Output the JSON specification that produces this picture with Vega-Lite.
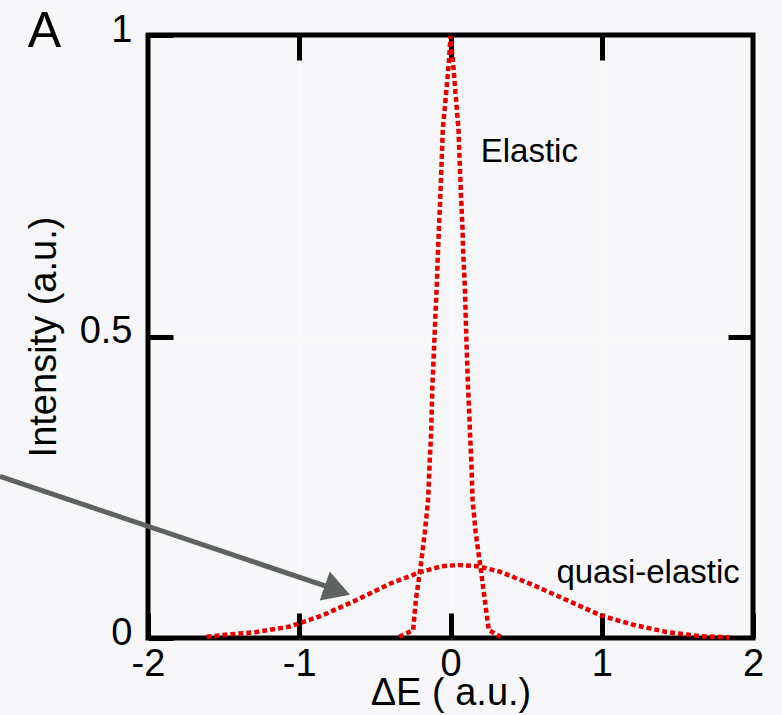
{
  "$schema": "https://vega.github.io/schema/vega-lite/v6.json",
  "autosize": {"type": "none"},
  "width": 605,
  "height": 603,
  "padding": {"left": 148, "top": 35, "right": 29, "bottom": 77},
  "background": "#f7f7f9",
  "config": {
    "view": {"stroke": "black", "strokeWidth": 5, "fill": "#f7f7f9"},
    "font": "Liberation Sans",
    "axis": {
      "labelFont": "Liberation Sans",
      "titleFont": "Liberation Sans",
      "labelFontSize": 38,
      "titleFontSize": 38,
      "labelColor": "black",
      "titleColor": "black",
      "titleFontWeight": "normal",
      "domain": false,
      "tickColor": "black",
      "tickWidth": 5,
      "tickSize": -25,
      "grid": true,
      "gridColor": "white",
      "gridDash": [4, 4],
      "gridWidth": 1
    }
  },
  "datasets": {
    "curves": [
      {"series": "elastic", "dE": -0.340, "I": 0.002},
      {"series": "elastic", "dE": -0.247, "I": 0.013},
      {"series": "elastic", "dE": -0.229, "I": 0.063},
      {"series": "elastic", "dE": -0.198, "I": 0.118},
      {"series": "elastic", "dE": -0.170, "I": 0.174},
      {"series": "elastic", "dE": -0.148, "I": 0.229},
      {"series": "elastic", "dE": -0.139, "I": 0.284},
      {"series": "elastic", "dE": -0.128, "I": 0.340},
      {"series": "elastic", "dE": -0.120, "I": 0.416},
      {"series": "elastic", "dE": -0.110, "I": 0.473},
      {"series": "elastic", "dE": -0.101, "I": 0.528},
      {"series": "elastic", "dE": -0.091, "I": 0.582},
      {"series": "elastic", "dE": -0.083, "I": 0.639},
      {"series": "elastic", "dE": -0.074, "I": 0.694},
      {"series": "elastic", "dE": -0.067, "I": 0.732},
      {"series": "elastic", "dE": -0.059, "I": 0.788},
      {"series": "elastic", "dE": -0.051, "I": 0.843},
      {"series": "elastic", "dE": -0.031, "I": 0.898},
      {"series": "elastic", "dE": -0.011, "I": 0.954},
      {"series": "elastic", "dE": 0.0, "I": 0.998},
      {"series": "elastic", "dE": 0.017, "I": 0.954},
      {"series": "elastic", "dE": 0.035, "I": 0.898},
      {"series": "elastic", "dE": 0.053, "I": 0.843},
      {"series": "elastic", "dE": 0.061, "I": 0.788},
      {"series": "elastic", "dE": 0.070, "I": 0.732},
      {"series": "elastic", "dE": 0.079, "I": 0.682},
      {"series": "elastic", "dE": 0.084, "I": 0.639},
      {"series": "elastic", "dE": 0.095, "I": 0.582},
      {"series": "elastic", "dE": 0.101, "I": 0.528},
      {"series": "elastic", "dE": 0.108, "I": 0.473},
      {"series": "elastic", "dE": 0.116, "I": 0.416},
      {"series": "elastic", "dE": 0.125, "I": 0.367},
      {"series": "elastic", "dE": 0.129, "I": 0.340},
      {"series": "elastic", "dE": 0.139, "I": 0.284},
      {"series": "elastic", "dE": 0.146, "I": 0.229},
      {"series": "elastic", "dE": 0.167, "I": 0.174},
      {"series": "elastic", "dE": 0.198, "I": 0.118},
      {"series": "elastic", "dE": 0.227, "I": 0.063},
      {"series": "elastic", "dE": 0.253, "I": 0.013},
      {"series": "elastic", "dE": 0.332, "I": 0.002},
      {"series": "quasi", "dE": -1.613, "I": 0.002},
      {"series": "quasi", "dE": -1.503, "I": 0.005},
      {"series": "quasi", "dE": -1.282, "I": 0.010},
      {"series": "quasi", "dE": -1.062, "I": 0.019},
      {"series": "quasi", "dE": -0.842, "I": 0.038},
      {"series": "quasi", "dE": -0.621, "I": 0.063},
      {"series": "quasi", "dE": -0.401, "I": 0.090},
      {"series": "quasi", "dE": -0.203, "I": 0.109},
      {"series": "quasi", "dE": -0.059, "I": 0.119},
      {"series": "quasi", "dE": 0.050, "I": 0.121},
      {"series": "quasi", "dE": 0.180, "I": 0.119},
      {"series": "quasi", "dE": 0.326, "I": 0.110},
      {"series": "quasi", "dE": 0.546, "I": 0.088},
      {"series": "quasi", "dE": 0.767, "I": 0.063},
      {"series": "quasi", "dE": 0.998, "I": 0.037},
      {"series": "quasi", "dE": 1.207, "I": 0.022},
      {"series": "quasi", "dE": 1.428, "I": 0.010},
      {"series": "quasi", "dE": 1.648, "I": 0.003},
      {"series": "quasi", "dE": 1.847, "I": 0.001}
    ],
    "arrow": [
      {"dE": -2.979, "I": 0.268},
      {"dE": -0.790, "I": 0.083}
    ],
    "arrowhead": [
      {"dE": -0.748, "I": 0.079}
    ],
    "labels": [
      {"dE": 0.20, "I": 0.806, "label": "Elastic"},
      {"dE": 0.70, "I": 0.108, "label": "quasi-elastic"}
    ],
    "panel": [
      {"dE": -2.685, "I": 1.005, "label": "A"}
    ]
  },
  "layer": [
    {
      "data": {"name": "curves"},
      "mark": {"type": "line", "stroke": "#e00000", "strokeWidth": 4.5, "strokeDash": [5, 3], "clip": false},
      "encoding": {
        "x": {"field": "dE", "type": "quantitative", "scale": {"domain": [-2, 2], "nice": false, "zero": false},
          "axis": {"orient": "bottom", "values": [-2, -1, 0, 1, 2], "title": "ΔE ( a.u.)", "labelPadding": 32, "titlePadding": -9, "labelFlush": false,
            "gridOpacity": {"condition": {"test": "datum.value == -2 || datum.value == 2", "value": 0}, "value": 1},
            "labelExpr": "datum.value < 0 ? '-' + abs(datum.value) : '' + datum.value"}},
        "y": {"field": "I", "type": "quantitative", "scale": {"domain": [0, 1], "nice": false},
          "axis": {"orient": "left", "values": [0, 0.5, 1], "title": "Intensity (a.u.)", "labelPadding": 41, "titlePadding": 16, "labelFlush": false, "labelOffset": -5,
            "gridOpacity": {"condition": {"test": "datum.value == 0 || datum.value == 1", "value": 0}, "value": 1},
            "labelExpr": "'' + datum.value"}},
        "detail": {"field": "series"}
      }
    },
    {
      "data": {"name": "arrow"},
      "mark": {"type": "line", "stroke": "#5e6260", "strokeWidth": 5, "clip": false},
      "encoding": {
        "x": {"field": "dE", "type": "quantitative", "axis": {"orient": "top", "values": [-1, 0, 1], "labels": false, "title": null, "grid": false}},
        "y": {"field": "I", "type": "quantitative", "axis": {"orient": "right", "values": [0.5], "labels": false, "title": null, "grid": false}}
      }
    },
    {
      "data": {"name": "arrowhead"},
      "mark": {"type": "point", "shape": "triangle-right", "filled": true, "fill": "#5e6260", "opacity": 1, "size": 950, "angle": 19, "clip": false},
      "encoding": {
        "x": {"field": "dE", "type": "quantitative", "axis": null},
        "y": {"field": "I", "type": "quantitative", "axis": null}
      }
    },
    {
      "data": {"name": "labels"},
      "mark": {"type": "text", "align": "left", "baseline": "middle", "fontSize": 33, "font": "Liberation Sans", "color": "black"},
      "encoding": {
        "x": {"field": "dE", "type": "quantitative", "axis": null},
        "y": {"field": "I", "type": "quantitative", "axis": null},
        "text": {"field": "label"}
      }
    },
    {
      "data": {"name": "panel"},
      "mark": {"type": "text", "align": "center", "baseline": "middle", "fontSize": 50, "font": "Liberation Sans", "color": "black", "clip": false},
      "encoding": {
        "x": {"field": "dE", "type": "quantitative", "axis": null},
        "y": {"field": "I", "type": "quantitative", "axis": null},
        "text": {"field": "label"}
      }
    }
  ],
  "resolve": {"axis": {"x": "independent", "y": "independent"}}
}
